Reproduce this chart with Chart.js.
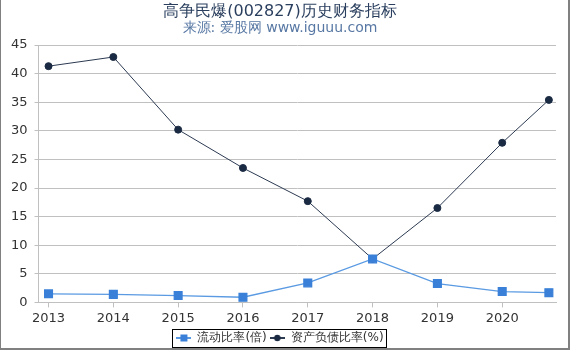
<!DOCTYPE html>
<html>
<head>
<meta charset="utf-8">
<script src="https://cdn.jsdelivr.net/npm/chart.js@4/dist/chart.umd.min.js"></script>
<style>
  html, body { margin: 0; padding: 0; background: #fff; }
  #wrap {
    width: 570px; height: 350px; box-sizing: border-box;
    border-left: 1px solid #808080; border-right: 2px solid #808080; border-bottom: 2px solid #808080;
  }
  canvas { display: block; }
</style>
</head>
<body>
<div id="wrap"><canvas id="myChart" width="567" height="348"></canvas></div>
<script>
// data
const periods = [2013, 2014, 2015, 2016, 2017, 2018, 2019, 2020, 2020.72];
const currentRatio = [1.5, 1.4, 1.2, 0.9, 3.4, 7.6, 3.3, 1.9, 1.7];
const debtRatio = [41.3, 42.9, 30.2, 23.5, 17.7, 7.6, 16.5, 27.9, 35.4];
const xTicks = [2013, 2014, 2015, 2016, 2017, 2018, 2019, 2020];
const yTicks = [0, 5, 10, 15, 20, 25, 30, 35, 40, 45];

const blue = '#3a80d8';
const navy = '#1a2a42';

// small legend icons: a short line with the marker in the middle
function legendIcon(color, lineColor, shape) {
  const c = document.createElement('canvas');
  c.width = 15; c.height = 10;
  const g = c.getContext('2d');
  g.strokeStyle = lineColor; g.lineWidth = 2;
  g.beginPath(); g.moveTo(0, 5); g.lineTo(15, 5); g.stroke();
  g.fillStyle = color;
  if (shape === 'rect') {
    g.fillRect(4, 1.5, 7, 7);
  } else {
    g.beginPath(); g.arc(7.5, 5, 3.2, 0, Math.PI * 2); g.fill();
  }
  return c;
}

const legendBorder = {
  id: 'legendBorder',
  afterDraw(chart) {
    const boxes = chart.legend && chart.legend.legendHitBoxes;
    if (!boxes || !boxes.length) return;
    let l = Infinity, r = -Infinity, t = Infinity, b = -Infinity;
    boxes.forEach(h => {
      l = Math.min(l, h.left); r = Math.max(r, h.left + h.width);
      t = Math.min(t, h.top); b = Math.max(b, h.top + h.height);
    });
    const ctx = chart.ctx;
    ctx.save();
    ctx.strokeStyle = '#000';
    ctx.lineWidth = 1;
    ctx.strokeRect(Math.round(l - 4) + 0.5, Math.round(t - 3) + 0.5, Math.round(r - l + 7), Math.round(b - t + 6));
    ctx.restore();
  }
};

const ctx = document.getElementById('myChart').getContext('2d');
new Chart(ctx, {
  type: 'line',
  data: {
    datasets: [{
      label: '流动比率(倍)',
      data: periods.map((p, i) => ({ x: p, y: currentRatio[i] })),
      borderColor: '#5a9ae2',
      backgroundColor: blue,
      pointBackgroundColor: blue,
      pointBorderColor: blue,
      pointStyle: 'rect',
      pointRadius: 5.5,
      borderWidth: 1.3,
      tension: 0
    }, {
      label: '资产负债比率(%)',
      data: periods.map((p, i) => ({ x: p, y: debtRatio[i] })),
      borderColor: '#2c3a52',
      backgroundColor: navy,
      pointBackgroundColor: navy,
      pointBorderColor: navy,
      pointStyle: 'circle',
      pointRadius: 3.5,
      borderWidth: 1,
      tension: 0
    }]
  },
  options: {
    responsive: false,
    animation: false,
    layout: { padding: { left: 3, right: 12, top: 0, bottom: -6 } },
    plugins: {
      title: {
        display: true,
        text: '高争民爆(002827)历史财务指标',
        color: '#2a3f5e',
        font: { family: 'DejaVu Sans', size: 16, weight: 'normal' },
        padding: { top: 2, bottom: 0 }
      },
      subtitle: {
        display: true,
        text: '来源: 爱股网 www.iguuu.com',
        color: '#5878a4',
        font: { family: 'DejaVu Sans', size: 14 },
        padding: { top: -1, bottom: 8 }
      },
      legend: {
        position: 'bottom',
        labels: {
          color: '#333',
          font: { family: 'DejaVu Sans', size: 12 },
          usePointStyle: true,
          pointStyleWidth: 15,
          boxHeight: 10,
          padding: 3
        },
        onClick: null
      },
      tooltip: { enabled: false }
    },
    scales: {
      x: {
        type: 'linear',
        min: 2012.846,
        max: 2020.83,
        afterBuildTicks(scale) { scale.ticks = xTicks.map(v => ({ value: v })); },
        ticks: {
          color: '#333',
          font: { family: 'DejaVu Sans', size: 13 },
          padding: 3,
          maxRotation: 0,
          callback: v => String(v)
        },
        grid: { drawOnChartArea: false, drawTicks: true, tickLength: 5, color: '#c0c0c0' },
        border: { color: '#c0c0c0' }
      },
      y: {
        min: 0,
        max: 45,
        afterBuildTicks(scale) { scale.ticks = yTicks.map(v => ({ value: v })); },
        ticks: {
          color: '#333',
          font: { family: 'DejaVu Sans', size: 13 },
          padding: 7
        },
        grid: { color: '#c0c0c0', tickLength: 4 },
        border: { color: '#c0c0c0' }
      }
    }
  },
  plugins: [legendBorder, {
    id: 'legendIcons',
    beforeInit(chart) {
      chart.options.plugins.legend.labels.generateLabels = function (c) {
        return c.data.datasets.map((d, i) => ({
          text: d.label,
          pointStyle: i === 0 ? legendIcon(blue, '#5a9ae2', 'rect') : legendIcon(navy, '#2c3a52', 'circle'),
          fillStyle: d.backgroundColor,
          strokeStyle: d.borderColor,
          lineWidth: 0,
          fontColor: '#333',
          datasetIndex: i,
          hidden: false
        }));
      };
    }
  }]
});
</script>
</body>
</html>
